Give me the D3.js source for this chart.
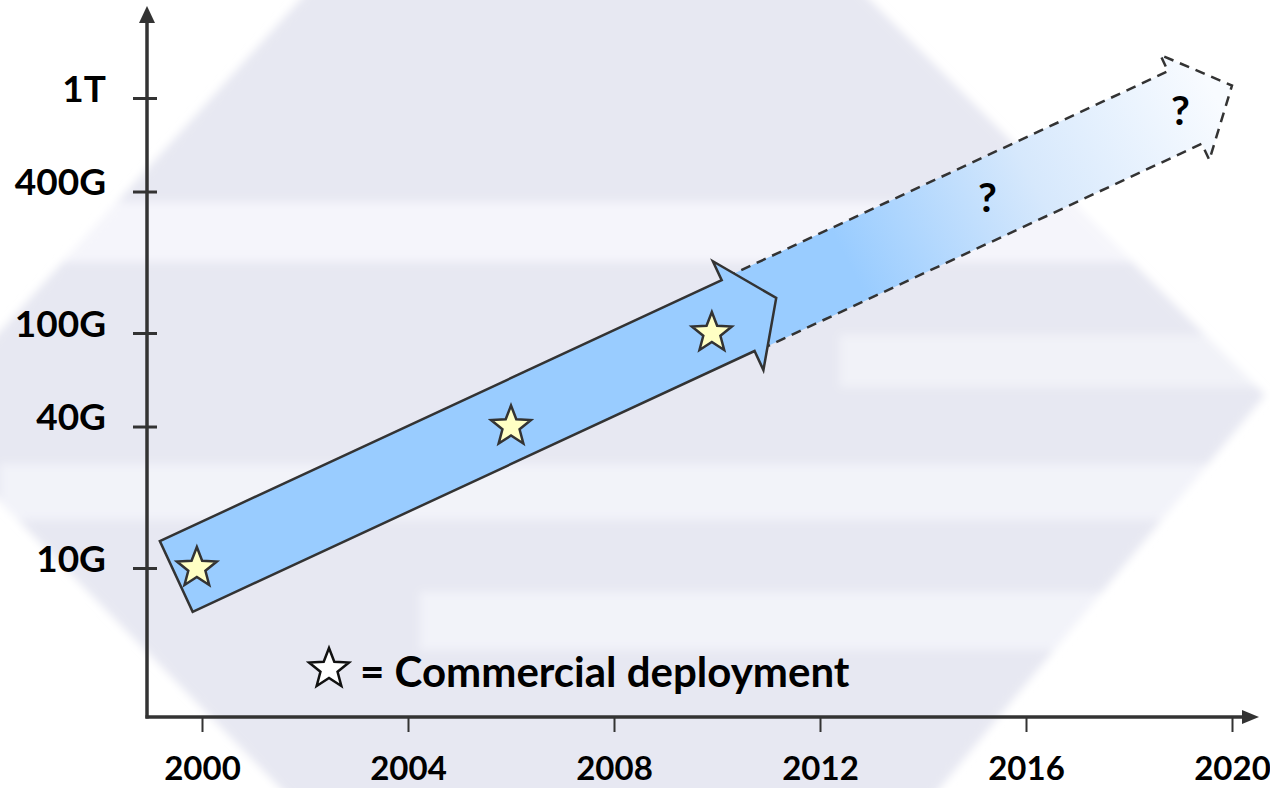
<!DOCTYPE html>
<html>
<head>
<meta charset="utf-8">
<script src="https://cdn.jsdelivr.net/npm/d3@7"></script>
<style>
  body { margin: 0; background: #fff; }
  svg { display: block; font-family: Lato, "Open Sans", sans-serif; font-weight: 700; }
</style>
</head>
<body>
<script>
// axis ticks
const years = [2000, 2004, 2008, 2012, 2016, 2020];
const rateTicks = [1e10, 4e10, 1e11, 4e11, 1e12];
const rateLabels = ["10G", "40G", "100G", "400G", "1T"];

// commercial deployments (stars)
const deployYears = [1999.9, 2006, 2009.9];
const deployRates = [1e10, 4e10, 1e11];

// arrows: [year, rate] of tail centre and tip
const solidArrow = [[1999.5, 9.2e9], [2011.15, 1.41e11]];
const forecastArrow = [[2010.5, 1.21e11], [2020, 1.13e12]];

// question marks in the forecast
const questionYears = [2015.25, 2019.0];
const questionRates = [3.27e11, 7.7e11];

var w = 1270;
var h = 788;

var x = d3.scaleLinear().domain([2000, 2020]).range([202, 1232]);
var y = d3.scaleLog().domain([1e10, 1e12]).range([568, 98]);

var svg = d3.select("body")
    .append("svg")
    .attr("width", w)
    .attr("height", h);

var defs = svg.append("defs");

defs.append("filter")
    .attr("id", "soft")
    .attr("x", "-10%").attr("y", "-10%").attr("width", "120%").attr("height", "120%")
    .append("feGaussianBlur")
    .attr("stdDeviation", 4);

var hexPts = [[-80, 420], [318, -20], [850, -20], [1265, 395], [930, 800], [292, 800]];

defs.append("clipPath")
    .attr("id", "hexclip")
    .append("polygon")
    .attr("points", hexPts.map(p => p.join(",")).join(" "));

// faded watermark behind the chart
var bg = svg.append("g").attr("filter", "url(#soft)");
bg.append("polygon")
    .attr("points", hexPts.map(p => p.join(",")).join(" "))
    .attr("fill", "#e7e8f2");

var bands = [
    [0, 202, 1270, 60, 0.75],
    [840, 335, 430, 52, 0.55],
    [0, 464, 1270, 56, 0.6],
    [420, 592, 850, 58, 0.6]
];
bg.append("g")
    .attr("clip-path", "url(#hexclip)")
    .selectAll("rect")
    .data(bands)
    .enter()
    .append("rect")
    .attr("x", d => d[0])
    .attr("y", d => d[1])
    .attr("width", d => d[2])
    .attr("height", d => d[3])
    .attr("fill", "#fafafd")
    .attr("opacity", d => d[4]);

// arrow outline in pixel space
function arrowPoints(a, halfW, headLen, headHalf) {
    var t = [x(a[0][0]), y(a[0][1])];
    var p = [x(a[1][0]), y(a[1][1])];
    var dx = p[0] - t[0], dy = p[1] - t[1];
    var len = Math.sqrt(dx * dx + dy * dy);
    var u = [dx / len, dy / len];
    var n = [-u[1], u[0]];
    var b = [p[0] - u[0] * headLen, p[1] - u[1] * headLen];
    function off(c, k) { return [c[0] + n[0] * k, c[1] + n[1] * k]; }
    return [off(t, -halfW), off(b, -halfW), off(b, -headHalf), p,
            off(b, headHalf), off(b, halfW), off(t, halfW)];
}

var fp = arrowPoints(forecastArrow, 40, 52, 58);
var grad = defs.append("linearGradient")
    .attr("id", "fade")
    .attr("gradientUnits", "userSpaceOnUse")
    .attr("x1", x(2012.6)).attr("y1", y(1.9e11))
    .attr("x2", x(2019.5)).attr("y2", y(1.2e12));
grad.append("stop").attr("offset", 0).attr("stop-color", "#99ccff");
grad.append("stop").attr("offset", 0.5).attr("stop-color", "#d6e8fc");
grad.append("stop").attr("offset", 1).attr("stop-color", "#f8fbff");

svg.append("polygon")
    .attr("points", fp.map(p => p.join(",")).join(" "))
    .attr("fill", "url(#fade)")
    .attr("stroke", "#333")
    .attr("stroke-width", 2.5)
    .attr("stroke-dasharray", "10,7")
    .attr("stroke-linejoin", "miter");

var sp = arrowPoints(solidArrow, 39, 42, 60);
svg.append("polygon")
    .attr("points", sp.map(p => p.join(",")).join(" "))
    .attr("fill", "#99ccff")
    .attr("stroke", "#333")
    .attr("stroke-width", 2.5)
    .attr("stroke-linejoin", "miter");

function starPath(R, r) {
    var pts = [];
    for (var i = 0; i < 10; i++) {
        var a = -Math.PI / 2 + i * Math.PI / 5;
        var rr = i % 2 === 0 ? R : r;
        pts.push([rr * Math.cos(a), rr * Math.sin(a)]);
    }
    return "M" + pts.map(p => p.join(",")).join("L") + "Z";
}

svg.selectAll(".star")
    .data(deployYears)
    .enter()
    .append("path")
    .attr("class", "star")
    .attr("d", starPath(21, 9))
    .attr("transform", (d, i) => "translate(" + x(d) + "," + y(deployRates[i]) + ")")
    .attr("fill", "#ffffc4")
    .attr("stroke", "#333")
    .attr("stroke-width", 2.5)
    .attr("stroke-linejoin", "miter");

svg.selectAll(".q")
    .data(questionYears)
    .enter()
    .append("text")
    .attr("class", "q")
    .attr("x", d => x(d))
    .attr("y", (d, i) => y(questionRates[i]))
    .attr("text-anchor", "middle")
    .style("font-size", "41px")
    .attr("fill", "#000")
    .text("?");

// axes
var x0 = 147, y0 = 717;

var xAxis = svg.append("g")
    .attr("transform", "translate(0," + y0 + ")")
    .call(d3.axisBottom(x).tickValues(years).tickFormat(d3.format("d")).tickSize(15));
xAxis.select(".domain").remove();
xAxis.selectAll(".tick line").attr("stroke", "#333").attr("stroke-width", 2);
xAxis.selectAll(".tick text")
    .attr("y", 63)
    .attr("dy", 0)
    .attr("fill", "#000")
    .style("font-size", "33px")
    .style("font-family", "Lato, sans-serif")
    .style("font-weight", 700);

var yAxis = svg.append("g")
    .attr("transform", "translate(" + x0 + ",0)")
    .call(d3.axisLeft(y).tickValues(rateTicks).tickFormat((d, i) => rateLabels[i]).tickSize(14));
yAxis.select(".domain").remove();
yAxis.selectAll(".tick line")
    .attr("x1", 10)
    .attr("x2", -14)
    .attr("stroke", "#333")
    .attr("stroke-width", 3);
yAxis.selectAll(".tick text")
    .attr("x", -41)
    .attr("dy", 3)
    .attr("fill", "#000")
    .style("font-size", "37px")
    .style("font-family", "Lato, sans-serif")
    .style("font-weight", 700);

svg.append("line")
    .attr("x1", x0).attr("y1", y0 + 1.5)
    .attr("x2", x0).attr("y2", 20)
    .attr("stroke", "#333").attr("stroke-width", 3.5);
svg.append("polygon")
    .attr("points", [[x0, 6], [x0 - 8, 23], [x0 + 8, 23]].map(p => p.join(",")).join(" "))
    .attr("fill", "#333");

svg.append("line")
    .attr("x1", x0 - 1.5).attr("y1", y0)
    .attr("x2", 1244).attr("y2", y0)
    .attr("stroke", "#333").attr("stroke-width", 3.5);
svg.append("polygon")
    .attr("points", [[1259, y0], [1242, y0 - 7], [1242, y0 + 7]].map(p => p.join(",")).join(" "))
    .attr("fill", "#333");

// legend
svg.append("path")
    .attr("d", starPath(21, 9))
    .attr("transform", "translate(329,669)")
    .attr("fill", "#fff")
    .attr("stroke", "#111")
    .attr("stroke-width", 2.5);

svg.append("text")
    .attr("x", 360)
    .attr("y", 687)
    .style("font-size", "42px")
    .attr("fill", "#000")
    .text("= Commercial deployment");
</script>
</body>
</html>
